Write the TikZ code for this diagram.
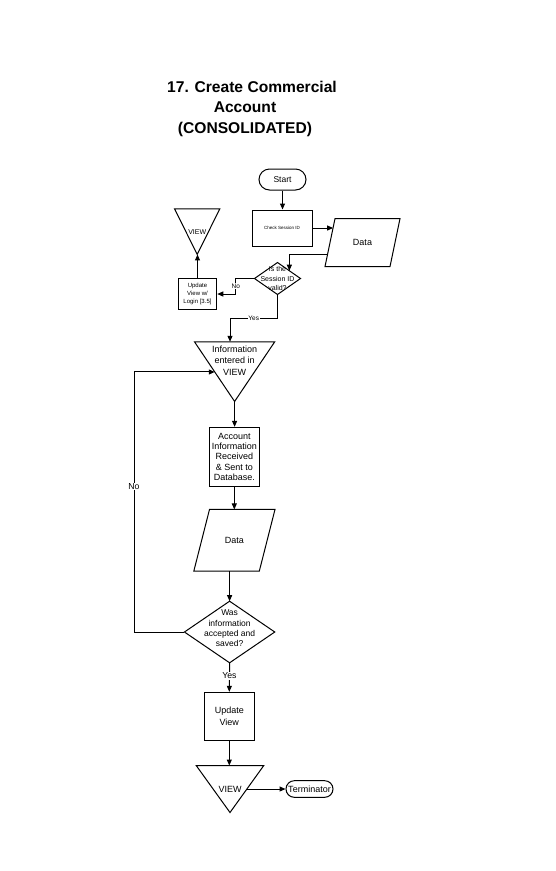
\documentclass[tikz,border=0pt]{standalone}
\usepackage{fontspec}
\setmainfont{Liberation Sans}
\usetikzlibrary{arrows.meta,shapes.misc,calc}

% font size shorthand: size and baseline skip
\newcommand{\fs}[2]{\fontsize{#1}{#2}\selectfont}

\tikzset{
  arr/.style={-{Triangle[length=6pt,width=5pt]}},
  box/.style={draw, rectangle, inner sep=1pt, align=center},
  termbox/.style={draw, rounded rectangle, inner sep=1pt, align=center},
  % invisible frame; the outline (diamond, slanted box, triangle) is drawn from its anchors
  frame/.style={rectangle, inner sep=0pt, align=center},
  lbl/.style={fill=white, inner sep=0.8pt},
}

\begin{document}
\begin{tikzpicture}[x=1pt,y=-1pt,line width=1pt]
\useasboundingbox (0,0) rectangle (556,871);
\fill[white] (0,0) rectangle (556,871);

% title
\node[align=center, font=\bfseries\fs{15.6}{20.5}] (title) at (245,108.5)
  {\hspace*{14pt}17. Create Commercial\\Account\\(CONSOLIDATED)};

% session check
\node[termbox, minimum width=49, minimum height=21, font=\fs{8.5}{10}] (start) at (282.5,179.5) {Start};
\node[box, minimum width=60, minimum height=36, font=\fs{4.5}{5.5}] (check) at (282,228) {Check Session ID};
\node[frame, minimum width=64, minimum height=47, font=\fs{9}{11}] (data1) at (362.5,242.6) {Data};
\node[frame, minimum width=45, minimum height=31, font=\fs{7}{9.5}] (dia1) at (277.5,278.5) {Is the\\Session ID\\valid?};
\node[box, minimum width=38.5, minimum height=30.5, font=\fs{6}{8.3}] (upd1) at (197.5,294) {Update\\View w/\\Login [3.5]};
\node[frame, minimum width=44.3, minimum height=44.7, font=\fs{7}{8}] (view1) at (197.2,231.6) {VIEW};

% main flow
\node[frame, minimum width=79.3, minimum height=58.7,
  label={[font=\fs{9}{11.5}, align=center, anchor=center, inner sep=0pt, yshift=-18.7]north:{Information\\entered in\\VIEW}}]
  (info) at (234.6,371.6) {};
\node[box, inner sep=0pt, minimum width=50, minimum height=58.7, font=\fs{9}{10.3}] (acct) at (234.3,456.7)
  {Account\\Information\\Received\\\& Sent to\\Database.};
\node[frame, minimum width=64.5, minimum height=60.7, font=\fs{9}{11}] (data2) at (234.4,540.3) {Data};
\node[frame, minimum width=89.3, minimum height=60.6,
  label={[font=\fs{8.5}{10.3}, align=center, inner sep=0pt, yshift=3.5]center:{Was\\information\\accepted and\\saved?}}]
  (dia2) at (229.6,632) {};
\node[box, minimum width=50, minimum height=47.7, font=\fs{9}{11.7}] (upd2) at (229.3,716.2) {Update\\View};
\node[frame, minimum width=66.6, minimum height=46, font=\fs{9}{10}] (view2) at (230,789) {VIEW};
\node[termbox, minimum width=49, minimum height=16.6, font=\fs{9}{10}] (term) at (309.5,789) {Terminator};

% outlines
\foreach \d in {dia1,dia2}
  \draw (\d.north) -- (\d.east) -- (\d.south) -- (\d.west) -- cycle;
\draw ($(data1.south west)+(-5,0)$) -- ($(data1.north west)+(5,0)$) -- ($(data1.north east)+(5,0)$) -- ($(data1.south east)+(-5,0)$) -- cycle;
\draw ($(data2.south west)+(-7.85,0)$) -- ($(data2.north west)+(7.85,0)$) -- ($(data2.north east)+(7.85,0)$) -- ($(data2.south east)+(-7.85,0)$) -- cycle;
\foreach \t in {view1,info,view2}
  \draw (\t.north west) -- (\t.north east) -- (\t.south) -- cycle;

% connectors
\draw[arr] (start.south) -- (start.south |- check.north);
\draw[arr] (check.east) -- ($(data1.west)+(3.1,-14.6)$);
\draw[arr] ($(data1.west)+(-2.4,11.4)$) -| ($(dia1.north)!0.515!(dia1.east)$);
\draw[arr] (dia1.west) -| ($(dia1.west)!0.5!(upd1.east)$) node[lbl, font=\fs{6.5}{7}] {No} |- (upd1.east);
\draw[arr] (upd1.north) -- (upd1.north |- view1.south);
\coordinate (yesbend) at (230,318.3);
\draw[arr] (dia1.south) |- node[lbl, pos=0.75, font=\fs{6.5}{7}] {Yes} (yesbend) -- (yesbend |- info.north);
\draw[arr] (info.south) -- (info.south |- acct.north);
\draw[arr] (acct.south) -- (acct.south |- data2.north);
\draw[arr] (data2.south -| dia2.north) -- (dia2.north);
\coordinate (inedge) at ($(info.north west)!0.506!(info.south)$);
\coordinate (loopx) at (134,0);
\draw[arr] (dia2.west) -| node[lbl, pos=0.78, font=\fs{8.7}{9}] {No} (loopx |- inedge) -- (inedge);
\draw[arr] (dia2.south) -- node[lbl, pos=0.45, font=\fs{8.7}{9}] {Yes} (upd2.north);
\draw[arr] (upd2.south) -- (upd2.south |- view2.north);
\draw[arr] ($(view2.north east)!0.5!(view2.south)$) -- (term.west);
\end{tikzpicture}
\end{document}
